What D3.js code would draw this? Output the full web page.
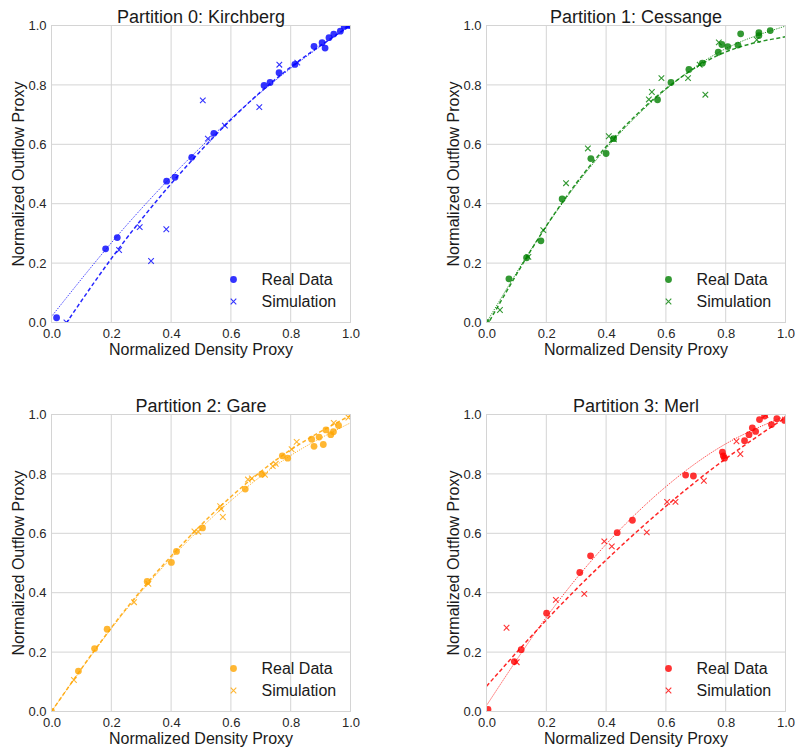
<!DOCTYPE html>
<html>
<head>
<meta charset="utf-8">
<script src="https://cdn.jsdelivr.net/npm/d3@7"></script>
<style>
	body { margin: 0; background: #fff; }
	svg { font-family: "Liberation Sans", Arial, Helvetica, sans-serif; }
	.grid line, .frame { stroke: #d4d4d4; stroke-width: 1; fill: none; }
	.axis text { fill: #262626; font-size: 13px; }
	.axis-title { fill: #1a1a1a; font-size: 16px; }
	.panel-title { fill: #1a1a1a; font-size: 18px; }
	.legend-item { fill: #1a1a1a; font-size: 16px; }
</style>
</head>
<body>
<svg id="chart" width="795" height="747"></svg>
<script>
const titles = ["Partition 0: Kirchberg", "Partition 1: Cessange", "Partition 2: Gare", "Partition 3: Merl"];
const colors = ["#0000ff", "#008000", "#ffa500", "#ff0000"];
const ticks = [0, 0.2, 0.4, 0.6, 0.8, 1.0];
const legendLabels = ["Real Data", "Simulation"];

// [density, outflow] pairs
const kirchbergReal = [[0.017, 0.016], [0.181, 0.248], [0.220, 0.286], [0.385, 0.476], [0.413, 0.489],
	[0.469, 0.556], [0.543, 0.637], [0.711, 0.798], [0.731, 0.808], [0.761, 0.841], [0.814, 0.869],
	[0.878, 0.930], [0.905, 0.942], [0.915, 0.924], [0.928, 0.959], [0.944, 0.971], [0.966, 0.981],
	[0.979, 0.997], [0.995, 1.0]];
const kirchbergSim = [[0.05, 0.0], [0.226, 0.244], [0.295, 0.321], [0.333, 0.207], [0.384, 0.314],
	[0.506, 0.748], [0.523, 0.619], [0.580, 0.663], [0.695, 0.725], [0.762, 0.868], [0.822, 0.875],
	[0.990, 1.0]];

const cessangeReal = [[0.0, 0.0], [0.075, 0.147], [0.134, 0.218], [0.182, 0.275], [0.253, 0.416],
	[0.349, 0.552], [0.400, 0.569], [0.425, 0.619], [0.572, 0.750], [0.617, 0.808], [0.677, 0.852],
	[0.722, 0.873], [0.775, 0.910], [0.787, 0.936], [0.807, 0.929], [0.841, 0.934], [0.850, 0.972],
	[0.911, 0.976], [0.911, 0.966], [0.949, 0.983]];
const cessangeSim = [[0.045, 0.042], [0.140, 0.221], [0.190, 0.311], [0.266, 0.469], [0.339, 0.586],
	[0.409, 0.627], [0.426, 0.617], [0.543, 0.751], [0.553, 0.776], [0.585, 0.823], [0.674, 0.823],
	[0.713, 0.868], [0.732, 0.767], [0.777, 0.943], [0.904, 0.952]];

const gareReal = [[0.0, 0.0], [0.090, 0.136], [0.144, 0.212], [0.186, 0.277], [0.320, 0.438],
	[0.401, 0.502], [0.418, 0.539], [0.505, 0.618], [0.648, 0.749], [0.703, 0.799], [0.772, 0.861],
	[0.790, 0.853], [0.870, 0.917], [0.878, 0.893], [0.895, 0.924], [0.909, 0.899], [0.918, 0.948],
	[0.934, 0.932], [0.943, 0.942], [0.960, 0.963]];
const gareSim = [[0.075, 0.106], [0.276, 0.368], [0.324, 0.430], [0.478, 0.606], [0.491, 0.605],
	[0.564, 0.691], [0.567, 0.682], [0.573, 0.655], [0.657, 0.781], [0.670, 0.785], [0.714, 0.797],
	[0.740, 0.826], [0.750, 0.834], [0.803, 0.883], [0.820, 0.908], [0.944, 0.972], [0.993, 0.990]];

const merlReal = [[0.005, 0.007], [0.093, 0.168], [0.116, 0.208], [0.201, 0.331], [0.312, 0.468],
	[0.348, 0.524], [0.437, 0.602], [0.488, 0.644], [0.666, 0.796], [0.692, 0.793], [0.789, 0.873],
	[0.792, 0.861], [0.796, 0.853], [0.863, 0.912], [0.878, 0.932], [0.889, 0.955], [0.900, 0.943],
	[0.913, 0.983], [0.930, 0.995], [0.953, 0.966], [0.971, 0.986], [0.997, 0.980]];
const merlSim = [[0.067, 0.282], [0.101, 0.166], [0.232, 0.376], [0.327, 0.396], [0.394, 0.573],
	[0.419, 0.556], [0.536, 0.603], [0.604, 0.706], [0.632, 0.706], [0.727, 0.777], [0.836, 0.910],
	[0.849, 0.867], [0.933, 0.998]];

// fitted curves at these x positions
const fitX = [0, 0.2, 0.4, 0.6, 0.8, 1.0];
const kirchbergRealFit = [0.02, 0.268, 0.49, 0.686, 0.856, 1.0];
const kirchbergSimFit = [-0.076, 0.215, 0.467, 0.683, 0.860, 1.0];
const cessangeRealFit = [0.0, 0.324, 0.586, 0.785, 0.922, 0.998];
const cessangeSimFit = [-0.013, 0.325, 0.592, 0.787, 0.911, 0.962];
const gareRealFit = [0.0, 0.279, 0.516, 0.710, 0.862, 0.972];
const gareSimFit = [0.0, 0.282, 0.523, 0.723, 0.881, 0.997];
const merlRealFit = [0.02, 0.317, 0.563, 0.757, 0.901, 0.995];
const merlSimFit = [0.085, 0.308, 0.510, 0.691, 0.851, 0.990];

const realSets = [kirchbergReal, cessangeReal, gareReal, merlReal];
const simSets = [kirchbergSim, cessangeSim, gareSim, merlSim];
const realFits = [kirchbergRealFit, cessangeRealFit, gareRealFit, merlRealFit];
const simFits = [kirchbergSimFit, cessangeSimFit, gareSimFit, merlSimFit];

const svg = d3.select("#chart");

function makePanel(idx, left, top) {
	const width = 299;
	const height = 297;
	const color = colors[idx];
	const real = realSets[idx];
	const sim = simSets[idx];

	const g = svg.append("g")
		.attr("transform", "translate(" + left + "," + top + ")");

	const x = d3.scaleLinear().domain([0, 1]).range([0, width]);
	const y = d3.scaleLinear().domain([0, 1]).range([height, 0]);

	// grid
	const grid = g.append("g").attr("class", "grid");
	grid.selectAll("line.v")
		.data(ticks)
		.join("line")
		.attr("class", "v")
		.attr("x1", d => x(d)).attr("x2", d => x(d))
		.attr("y1", 0).attr("y2", height);
	grid.selectAll("line.h")
		.data(ticks)
		.join("line")
		.attr("class", "h")
		.attr("x1", 0).attr("x2", width)
		.attr("y1", d => y(d)).attr("y2", d => y(d));

	g.append("g")
		.attr("class", "axis")
		.attr("transform", "translate(0," + height + ")")
		.call(d3.axisBottom(x).tickValues(ticks).tickFormat(d3.format(".1f")).tickSize(0).tickPadding(6))
		.call(a => a.select(".domain").remove());

	g.append("g")
		.attr("class", "axis")
		.call(d3.axisLeft(y).tickValues(ticks).tickFormat(d3.format(".1f")).tickSize(0).tickPadding(5))
		.call(a => a.select(".domain").remove());

	g.append("defs").append("clipPath")
		.attr("id", "clip" + idx)
		.append("rect")
		.attr("width", width)
		.attr("height", height);

	const plot = g.append("g").attr("clip-path", "url(#clip" + idx + ")");

	const line = d3.line()
		.x(d => x(d[0]))
		.y(d => y(d[1]))
		.curve(d3.curveNatural);

	// real data fit: thin dotted
	plot.append("path")
		.datum(fitX.map((v, i) => [v, realFits[idx][i]]))
		.attr("d", line)
		.attr("fill", "none")
		.attr("stroke", color)
		.attr("stroke-opacity", 0.8)
		.attr("stroke-width", 1)
		.attr("stroke-dasharray", "1.2,1.2");

	// simulation fit: dashed
	plot.append("path")
		.datum(fitX.map((v, i) => [v, simFits[idx][i]]))
		.attr("d", line)
		.attr("fill", "none")
		.attr("stroke", color)
		.attr("stroke-opacity", 0.85)
		.attr("stroke-width", 1.5)
		.attr("stroke-dasharray", "4,2.5");

	plot.selectAll("circle")
		.data(real)
		.join("circle")
		.attr("cx", d => x(d[0]))
		.attr("cy", d => y(d[1]))
		.attr("r", 3.4)
		.attr("fill", color)
		.attr("fill-opacity", 0.8);

	const s = 2.8;
	const cross = "M" + (-s) + "," + (-s) + "L" + s + "," + s + "M" + (-s) + "," + s + "L" + s + "," + (-s);

	plot.selectAll("path.sim")
		.data(sim)
		.join("path")
		.attr("class", "sim")
		.attr("d", cross)
		.attr("transform", d => "translate(" + x(d[0]) + "," + y(d[1]) + ")")
		.attr("stroke", color)
		.attr("stroke-opacity", 0.8)
		.attr("stroke-width", 1.1)
		.attr("fill", "none");

	g.append("rect")
		.attr("class", "frame")
		.attr("width", width)
		.attr("height", height);

	// legend
	const legend = g.append("g")
		.attr("transform", "translate(" + (width - 117) + "," + (height - 43) + ")");
	legend.append("circle")
		.attr("r", 3.4)
		.attr("fill", color)
		.attr("fill-opacity", 0.8);
	legend.append("path")
		.attr("d", cross)
		.attr("transform", "translate(0,22)")
		.attr("stroke", color)
		.attr("stroke-opacity", 0.8)
		.attr("stroke-width", 1.1);
	legend.selectAll("text")
		.data(legendLabels)
		.join("text")
		.attr("class", "legend-item")
		.attr("x", 28)
		.attr("y", (d, i) => i * 22)
		.attr("dy", "0.35em")
		.text(d => d);

	g.append("text")
		.attr("class", "panel-title")
		.attr("x", width / 2)
		.attr("y", -2.5)
		.attr("text-anchor", "middle")
		.text(titles[idx]);

	g.append("text")
		.attr("class", "axis-title")
		.attr("x", width / 2)
		.attr("y", height + 32)
		.attr("text-anchor", "middle")
		.text("Normalized Density Proxy");

	g.append("text")
		.attr("class", "axis-title")
		.attr("transform", "translate(-28," + (height / 2) + ") rotate(-90)")
		.attr("text-anchor", "middle")
		.text("Normalized Outflow Proxy");
}

makePanel(0, 51.5, 25.5);
makePanel(1, 486.5, 25.5);
makePanel(2, 51.5, 414.5);
makePanel(3, 486.5, 414.5);
</script>
</body>
</html>
